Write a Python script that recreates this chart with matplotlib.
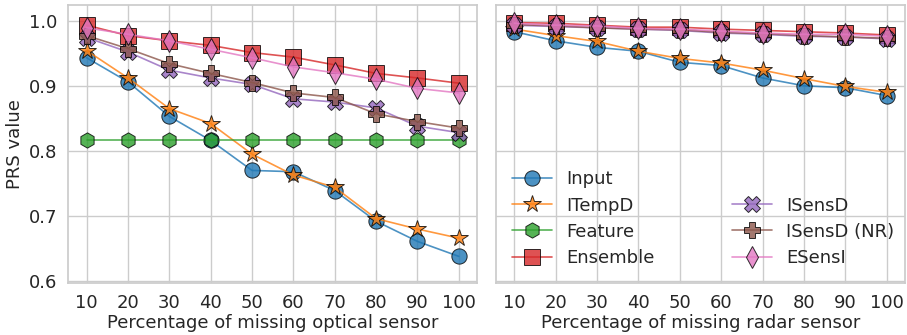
import numpy as np
import matplotlib.pyplot as plt
import seaborn as sns

sns.set_theme(style="whitegrid")
plt.rcParams['font.family'] = ['DejaVu Sans']

x = [10, 20, 30, 40, 50, 60, 70, 80, 90, 100]
names = ["Input", "ITempD", "Feature", "Ensemble", "ISensD", "ISensD (NR)", "ESensI"]
markers = ["o", "*", "h", "s", "X", "P", "d"]

# optical sensor missing
optical = {
    "Input":       [0.943, 0.906, 0.853, 0.816, 0.770, 0.768, 0.739, 0.692, 0.661, 0.638],
    "ITempD":      [0.954, 0.912, 0.865, 0.842, 0.795, 0.763, 0.744, 0.696, 0.680, 0.666],
    "Feature":     [0.816, 0.816, 0.816, 0.816, 0.816, 0.816, 0.816, 0.816, 0.816, 0.816],
    "Ensemble":    [0.993, 0.977, 0.969, 0.962, 0.951, 0.944, 0.932, 0.919, 0.912, 0.904],
    "ISensD":      [0.974, 0.952, 0.924, 0.912, 0.902, 0.880, 0.875, 0.866, 0.838, 0.828],
    "ISensD (NR)": [0.977, 0.957, 0.934, 0.919, 0.905, 0.889, 0.882, 0.857, 0.845, 0.835],
    "ESensI":      [0.989, 0.979, 0.969, 0.956, 0.943, 0.929, 0.920, 0.910, 0.896, 0.889],
}

# radar sensor missing (no Feature curve here)
radar = {
    "Input":       [0.983, 0.969, 0.959, 0.953, 0.936, 0.931, 0.912, 0.900, 0.897, 0.885],
    "ITempD":      [0.987, 0.977, 0.968, 0.953, 0.942, 0.935, 0.924, 0.911, 0.899, 0.890],
    "Ensemble":    [0.997, 0.996, 0.993, 0.990, 0.990, 0.987, 0.985, 0.983, 0.981, 0.978],
    "ISensD":      [0.993, 0.991, 0.989, 0.987, 0.985, 0.981, 0.979, 0.976, 0.975, 0.972],
    "ISensD (NR)": [0.994, 0.992, 0.989, 0.987, 0.986, 0.982, 0.980, 0.977, 0.975, 0.973],
    "ESensI":      [0.996, 0.993, 0.992, 0.988, 0.987, 0.984, 0.981, 0.979, 0.979, 0.976],
}

colors = sns.color_palette("tab10")

fig, axes = plt.subplots(1, 2, figsize=(9.07, 3.35), dpi=100, sharey=True)

def draw(ax, data):
    handles = {}
    for i, name in enumerate(names):
        if name not in data:
            continue
        ms = 13 if markers[i] == "*" else 11
        h, = ax.plot(x, data[name], marker=markers[i], color=colors[i], markersize=ms,
                     markeredgecolor="black", markeredgewidth=0.7, alpha=0.8,
                     linewidth=1.2, label=name)
        handles[name] = h
    ax.set_xticks(x)
    ax.set_ylim(0.597, 1.024)
    ax.set_yticks([0.6, 0.7, 0.8, 0.9, 1.0])
    ax.tick_params(labelsize=13, pad=2)
    return handles

hl = draw(axes[0], optical)
draw(axes[1], radar)

axes[0].set_ylabel("PRS value", fontsize=13, labelpad=3)
axes[0].set_xlabel("Percentage of missing optical sensor", fontsize=13, labelpad=1)
axes[1].set_xlabel("Percentage of missing radar sensor", fontsize=13, labelpad=1)
axes[1].tick_params(labelleft=False)

blank, = axes[1].plot([], [], color="none", label=" ")
order = ["Input", "ITempD", "Feature", "Ensemble"]
order2 = ["ISensD", "ISensD (NR)", "ESensI"]
leg_h = [hl[n] for n in order] + [blank] + [hl[n] for n in order2]
leg_l = order + [""] + order2
axes[1].legend(leg_h, leg_l, ncol=2, loc="lower left", frameon=False, fontsize=13,
               columnspacing=4.3, handlelength=2.2, labelspacing=0.45,
               bbox_to_anchor=(0.0, 0.0))

plt.subplots_adjust(left=0.075, right=0.998, top=0.985, bottom=0.155, wspace=0.045)
plt.savefig("out.png", dpi=100)
